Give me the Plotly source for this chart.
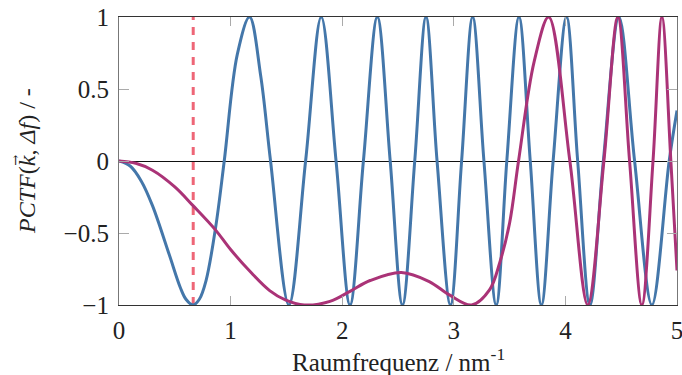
import plotly.graph_objects as go

# spatial frequency sample points (nm^-1) and PCTF values
blue_k = [0, 0.1, 0.2, 0.30, 0.45, 0.55, 0.6, 0.663, 0.72, 0.78, 0.866, 0.943, 1.06, 1.170, 1.27, 1.358,
          1.522, 1.672, 1.812, 1.945, 2.07, 2.19, 2.315, 2.43, 2.54, 2.65, 2.751, 2.85,
          2.97, 3.07, 3.169, 3.27, 3.38, 3.475, 3.584, 3.685, 3.785, 3.89, 4.01, 4.11,
          4.22, 4.34, 4.48, 4.62, 4.775, 4.93, 5.0]
blue_v = [0, -0.035, -0.14, -0.31, -0.65, -0.88, -0.96, -1, -0.96, -0.83, -0.46, 0, 0.74, 1, 0.59, 0,
          -1, 0, 1, 0, -1, 0, 1, 0, -1, 0, 1, 0,
          -1, 0, 1, 0, -1, 0, 1, 0, -1, 0, 1, 0,
          -1, 0, 1, 0, -1, 0, 0.35]

mag_k = [0, 0.15, 0.3, 0.5, 0.663, 0.866, 1.0, 1.19, 1.35, 1.49, 1.66, 1.89, 2.07, 2.25,
         2.53, 2.78, 2.96, 3.16, 3.32, 3.41, 3.5, 3.58, 3.72, 3.85, 4.04, 4.20, 4.345,
         4.47, 4.575, 4.685, 4.785, 4.865, 4.945, 5.0]
mag_v = [0, -0.016, -0.064, -0.18, -0.31, -0.48, -0.615, -0.78, -0.90, -0.965, -1, -0.975, -0.905, -0.83,
         -0.774, -0.837, -0.93, -1, -0.895, -0.71, -0.43, 0, 0.69, 1, 0, -1, 0,
         1, 0, -1, 0, 1, 0, -0.76]

marker_k = 0.665          # dashed vertical marker position
y_span = [-1, 1]

x_ticks = [0, 1, 2, 3, 4, 5]
y_ticks = [-1, -0.5, 0, 0.5, 1]

BLUE = "#4477AA"
PURPLE = "#AA3377"
RED = "#EE6677"
FONT = "Liberation Serif"

fig = go.Figure()
fig.add_trace(go.Scatter(x=[marker_k, marker_k], y=y_span, mode="lines",
                         line=dict(color=RED, width=3, dash="8px,7px"),
                         hoverinfo="skip"))
fig.add_trace(go.Scatter(x=blue_k, y=blue_v, mode="lines",
                         line=dict(color=BLUE, width=3, shape="spline", smoothing=1)))
fig.add_trace(go.Scatter(x=mag_k, y=mag_v, mode="lines",
                         line=dict(color=PURPLE, width=3, shape="spline", smoothing=1)))

fig.update_layout(
    width=682, height=375,
    margin=dict(l=119, r=5, t=17, b=70),
    paper_bgcolor="white", plot_bgcolor="white",
    showlegend=False,
    font=dict(family=FONT, size=25, color="#222"),
    xaxis=dict(range=[0, 5], tickvals=x_ticks, ticktext=[str(v) for v in x_ticks],
               automargin=False,
               showgrid=False, zeroline=False,
               showline=True, linecolor="#333", linewidth=1.2, mirror="ticks",
               ticks="inside", ticklen=9, tickcolor="#aaa", tickwidth=1.2,
               ticklabelstandoff=3, ticklabeloverflow="allow",
               tickfont=dict(family=FONT, size=25, color="#222")),
    yaxis=dict(range=[-1, 1], tickvals=y_ticks,
               ticktext=["\u22121", "\u22120.5", "0", "0.5", "1"],
               automargin=False,
               showgrid=False, zeroline=True, zerolinecolor="#111", zerolinewidth=1.2,
               showline=True, linecolor="#777", linewidth=1.2, mirror="ticks",
               ticks="inside", ticklen=10, tickcolor="#aaa", tickwidth=1.2,
               ticklabelstandoff=4, ticklabeloverflow="allow",
               tickfont=dict(family=FONT, size=25, color="#222")),
)

fig.add_annotation(text="Raumfrequenz / nm<sup>-1</sup>", xref="paper", yref="paper",
                   x=0.5, y=-0.191, xanchor="center", yanchor="middle", showarrow=False,
                   font=dict(family=FONT, size=25, color="#222"))
fig.add_annotation(text="<i>PCTF</i>(<i>k</i>, <i>\u0394f</i>) / -",
                   xref="paper", yref="paper", x=-0.165, y=0.5, xanchor="center",
                   yanchor="middle", textangle=-90, showarrow=False,
                   font=dict(family=FONT, size=24, color="#222"))
# vector arrow over k
fig.add_annotation(text="\u2192", xref="paper", yref="paper", x=-0.187, y=0.503,
                   xanchor="center", yanchor="middle", textangle=-90, showarrow=False,
                   font=dict(family="DejaVu Serif", size=13, color="#222"))

fig.write_html("out.html")
